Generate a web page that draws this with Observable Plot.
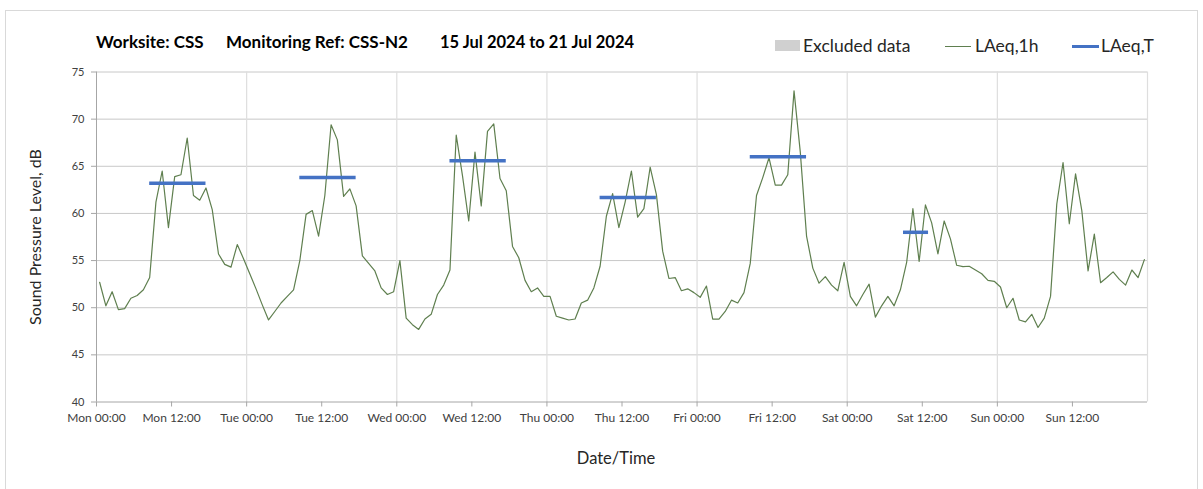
<!DOCTYPE html>
<html><head><meta charset="utf-8">
<script src="https://cdn.jsdelivr.net/npm/d3@7"></script>
<script src="https://cdn.jsdelivr.net/npm/@observablehq/plot@0.6"></script>
<style>
body{margin:0;background:#fff;font-family:Lato, "Open Sans", sans-serif;}
#wrap{position:relative;width:1203px;height:489px;overflow:hidden;}
#frame{position:absolute;left:5px;top:10px;width:1193px;height:495px;border:1px solid #d9d9d9;box-sizing:border-box;}
.t{position:absolute;top:31px;font-weight:bold;font-size:17px;color:#000;white-space:pre;}
.lg{position:absolute;top:35px;font-size:17.5px;color:#262626;white-space:pre;}
.sw{position:absolute;}
#chart{position:absolute;left:0;top:60px;}
</style></head>
<body>
<div id="wrap">
  <div id="frame"></div>
  <div id="t1" class="t" style="left:96px">Worksite: CSS</div>
  <div id="t2" class="t" style="left:226px">Monitoring Ref: CSS-N2</div>
  <div id="t3" class="t" style="left:440px;font-size:16.5px;top:32px">15 Jul 2024 to 21 Jul 2024</div>
  <div class="sw" style="left:775px;top:40px;width:25px;height:11px;background:#d0d0d0"></div>
  <div class="lg" style="left:803px">Excluded data</div>
  <div class="sw" style="left:945px;top:46px;width:26px;height:1.3px;background:#5f7f4f"></div>
  <div class="lg" style="left:975px">LAeq,1h</div>
  <div class="sw" style="left:1072px;top:45px;width:27px;height:3px;background:#4472c4"></div>
  <div class="lg" style="left:1101px">LAeq,T</div>
  <div id="chart"></div>
</div>
<script>
// Hourly LAeq,1h values, Mon 00:00 (15 Jul 2024) to Sun 23:00 (21 Jul 2024)
const laeq1h = [
  52.7,50.2,51.7,49.8,49.9,51.0,51.3,51.9,53.2,61.2,64.5,58.5,63.9,64.1,68.0,61.9,61.4,62.7,60.4,55.7,54.6,54.3,56.7,55.2,
  53.6,52.0,50.3,48.7,49.6,50.5,51.2,51.9,55.0,59.9,60.3,57.6,61.9,69.4,67.8,61.8,62.6,60.8,55.5,54.7,53.9,52.1,51.4,51.7,
  55.0,48.9,48.2,47.7,48.8,49.3,51.4,52.4,54.0,68.3,64.0,59.2,66.5,60.8,68.7,69.5,63.7,62.4,56.5,55.3,52.9,51.7,52.1,51.2,
  51.2,49.1,48.9,48.7,48.8,50.5,50.8,52.1,54.4,59.7,62.1,58.5,61.2,64.5,59.6,60.5,64.9,62.0,56.0,53.1,53.2,51.8,52.0,51.6,
  51.1,52.3,48.8,48.8,49.6,50.8,50.5,51.6,54.7,61.9,63.8,65.9,63.0,63.0,64.1,73.0,66.5,57.6,54.2,52.6,53.3,52.4,51.8,54.8,
  51.2,50.2,51.4,52.5,49.0,50.2,51.2,50.2,51.9,54.8,60.5,54.9,60.9,59.0,55.7,59.2,57.3,54.5,54.35,54.4,54.0,53.6,52.9,52.8,
  52.2,50.0,51.0,48.7,48.5,49.3,47.9,48.9,51.2,61.0,65.4,58.9,64.2,60.3,53.9,57.8,52.65,53.2,53.8,53.0,52.4,54.0,53.2,55.1
];
// LAeq,T periods (day index, start hour, end hour, level)
const periodDay   = [0, 1, 2, 3, 4, 5];
const periodStart = [8.5, 8.5, 8.5, 8.5, 8.5, 9.0];
const periodEnd   = [17.5, 17.5, 17.5, 17.5, 17.5, 13.0];
const periodLevel = [63.2, 63.8, 65.6, 61.7, 66.0, 58.0];
// Axis ticks
const xTickHours  = [0,12,24,36,48,60,72,84,96,108,120,132,144,156];
const xTickLabels = ["Mon 00:00","Mon 12:00","Tue 00:00","Tue 12:00","Wed 00:00","Wed 12:00","Thu 00:00",
                     "Thu 12:00","Fri 00:00","Fri 12:00","Sat 00:00","Sat 12:00","Sun 00:00","Sun 12:00"];
const dayGrid = [24,48,72,96,120,144,168];
const yTicks = [40,45,50,55,60,65,70,75];

const lineData = laeq1h.map((v, i) => ({t: i + 0.5, v}));
const periods = periodDay.map((d, i) => ({x1: d*24 + periodStart[i], x2: d*24 + periodEnd[i], y: periodLevel[i]}));

const fontFam = "Lato, 'Open Sans', sans-serif";
const chart = Plot.plot({
  width: 1203,
  height: 429,
  marginLeft: 96,
  marginRight: 56,
  marginTop: 11.5,
  marginBottom: 87.5,
  style: {fontFamily: fontFam, background: "transparent", overflow: "visible"},
  x: {type: "linear", domain: [0, 168]},
  y: {domain: [40, 75]},
  marks: [
    Plot.ruleY(yTicks.slice(1), {stroke: "#c8c8c8", strokeWidth: 1}),
    Plot.ruleX(dayGrid, {stroke: "#dedede", strokeWidth: 1.2}),
    Plot.ruleX([0], {stroke: "#a6a6a6"}),
    Plot.ruleY([40], {stroke: "#a6a6a6"}),
    Plot.axisY(yTicks, {tickSize: 5, tickPadding: 7, stroke: "#a6a6a6", fill: "#404040", fontSize: 11, label: null}),
    Plot.axisX(xTickHours, {tickSize: 5, tickPadding: 6, stroke: "#a6a6a6", fill: "#404040", fontSize: 12,
      tickFormat: (d) => xTickLabels[xTickHours.indexOf(d)], label: null}),
    Plot.line(lineData, {x: "t", y: "v", stroke: "#5f7f4f", strokeWidth: 1.2}),
    Plot.ruleY(periods, {x1: "x1", x2: "x2", y: "y", stroke: "#4472c4", strokeWidth: 3.5}),
    Plot.text(["Sound Pressure Level, dB"], {frameAnchor: "left", dx: -61, rotate: -90, textAnchor: "middle",
      fontSize: 16, fill: "#262626"}),
    Plot.text(["Date/Time"], {frameAnchor: "bottom", dy: 62, dx: -6, textAnchor: "middle", fontSize: 16.5, fill: "#262626"})
  ]
});
document.getElementById("chart").appendChild(chart);
</script>
</body></html>
